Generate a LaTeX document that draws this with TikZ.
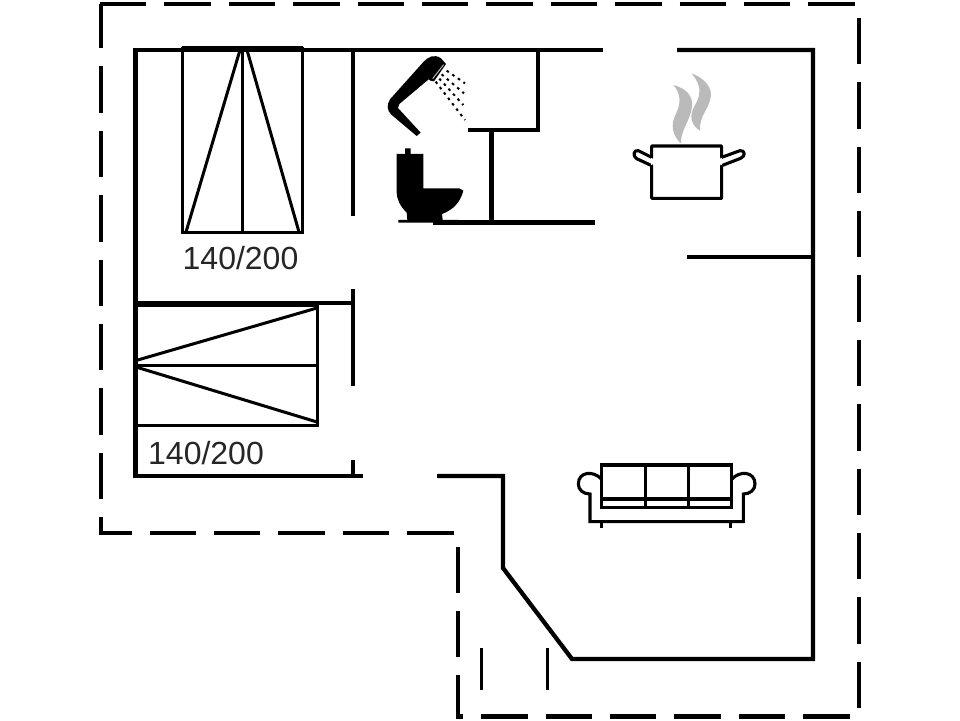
\documentclass[tikz,border=0pt]{standalone}
\usepackage{fontspec}
\setmainfont{Liberation Sans}
\tikzset{
    wall/.style={line width=4.3pt,line cap=butt,line join=miter},
    bedline/.style={line width=3pt},
    outline/.style={line width=4.3pt,dash pattern=on 46.4pt off 18pt},
    icon/.style={line width=3.1pt},
    spray/.style={line width=2pt,dash pattern=on 2.6pt off 4.2pt},
    inzoom/.style={x=0.3333pt,y=-0.3333pt},
    bedlabel/.style={font=\fontsize{32}{32}\selectfont,text=black!85,inner sep=0pt}
}
\begin{document}
\begin{tikzpicture}[x=1pt,y=-1pt]
    \useasboundingbox (0,0) rectangle (960,720);
    % dashed plot line
    \draw[outline] (100,4.3) -- (859.3,4.3) -- (859.3,716.5) -- (458,716.5)
        -- (458,533) -- (101,533) -- (101,4.3);
    \draw[line width=3pt] (481.5,648) -- (481.5,690);
    \draw[line width=3pt] (547.5,648) -- (547.5,690);
    % walls
    \draw[wall] (603,50) -- (135.5,50) -- (135.5,476) -- (363,476);
    \draw[wall] (677,50) -- (813,50) -- (813,659) -- (572,659) -- (503,568) -- (503,476) -- (437,476);
    \draw[wall] (353,50) -- (353,216);
    \draw[wall] (135.5,303) -- (353,303);
    \draw[wall] (353,289) -- (353,386);
    \draw[wall] (353,460) -- (353,476);
    \draw[wall] (538,50) -- (538,130) -- (468,130);
    \draw[wall] (491.5,130) -- (491.5,222);
    \draw[wall] (433,222.5) -- (595,222.5);
    \draw[wall] (687,257) -- (813,257);
    % beds
    \draw[bedline] (182.7,48) rectangle (302.7,232.5);
    \draw[wall] (182,48.5) -- (303,48.5);
    \draw[bedline] (242.7,48) -- (242.7,232.5);
    \draw[bedline] (186,232) -- (240,50);
    \draw[bedline] (299,232) -- (247,50);
    \draw[bedline] (135,305) -- (317.7,305) -- (317.7,425) -- (135,425);
    \draw[line width=5.5pt] (135.5,302) -- (135.5,426);
    \draw[bedline] (135,365) -- (317.7,365);
    \draw[bedline] (136,360.5) -- (317,308);
    \draw[bedline] (136,367) -- (317,422);
    \node[bedlabel] (upperbed) at (240.5,258) {140/200};
    \node[bedlabel] (lowerbed) at (206,453.5) {140/200};
    % shower and toilet
    \begin{scope}[shift={(370,40)},inzoom]
        \fill (160,66) .. controls (175,50) and (192,42) .. (212,54) -- (228,72) -- (192,124)
            .. controls (184,124) and (180,122) .. (176,118)
            -- (88,192) -- (84,204) -- (152,278) -- (140,288) -- (64,224)
            .. controls (50,210) and (50,195) .. (60,178) -- cycle;
        \draw[white!70!black,line width=1pt] (221,74) -- (188,116);
        \draw[spray] (230,92) -- (285,130);
        \draw[spray] (215,103) -- (282,160);
        \draw[spray] (208,116) -- (280,195);
        \draw[spray] (197,125) -- (285,240);
        \fill (105,342) -- (105,325) -- (122,325) -- (122,342) -- (160,342) -- (160,445)
            -- (268,445) -- (280,452) .. controls (272,485) and (250,510) .. (216,522)
            -- (218,540) -- (265,540) -- (265,548) -- (85,548) -- (85,540) -- (112,540)
            -- (110,518) .. controls (92,500) and (80,480) .. (80,455) -- (80,342) -- cycle;
    \end{scope}
    % pot
    \begin{scope}[shift={(620,60)},inzoom]
        \fill[black!27] (160,75) .. controls (200,85) and (220,110) .. (216,140)
            .. controls (212,180) and (184,205) .. (182,250)
            .. controls (162,230) and (152,205) .. (162,175)
            .. controls (172,150) and (195,115) .. (160,75) -- cycle;
        \fill[black!27] (215,40) .. controls (255,55) and (278,85) .. (272,112)
            .. controls (266,150) and (238,165) .. (240,212)
            .. controls (218,198) and (208,175) .. (218,150)
            .. controls (228,125) and (260,95) .. (215,40) -- cycle;
        \draw[icon,line join=round] (95,292) -- (95,258) -- (305,258) -- (305,292)
            -- (360,272) .. controls (375,270) and (378,288) .. (362,295) -- (305,317)
            -- (305,415) -- (95,415) -- (95,317) -- (50,296)
            .. controls (36,288) and (42,268) .. (55,272) -- cycle;
        \fill[white] (93,295) rectangle (97,314);
        \fill[white] (303,295) rectangle (307,314);
    \end{scope}
    % sofa
    \begin{scope}[shift={(565,450)},inzoom]
        \draw[icon] (110,45) rectangle (500,172);
        \draw[icon] (242,45) -- (242,172);
        \draw[icon] (370,45) -- (370,172);
        \draw[icon] (110,147) -- (500,147);
        \draw[icon] (110,88) .. controls (85,60) and (40,65) .. (40,102)
            .. controls (40,120) and (55,132) .. (75,132) -- (75,215) -- (535,215) -- (535,132)
            .. controls (555,132) and (570,120) .. (570,102)
            .. controls (570,65) and (525,60) .. (500,88);
        \draw[icon] (110,215) -- (110,233);
        \draw[icon] (497,215) -- (497,233);
    \end{scope}
\end{tikzpicture}
\end{document}
